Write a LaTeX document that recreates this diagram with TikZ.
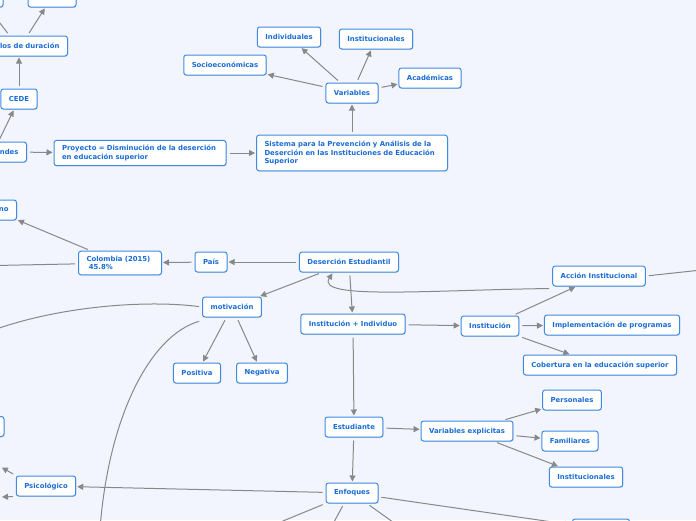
\documentclass[tikz,border=0pt]{standalone}
\usepackage{fontspec}
\setmainfont{DejaVu Sans}
\usetikzlibrary{arrows.meta,shadows}
\definecolor{fondo}{HTML}{F2F5FD}
\definecolor{borde}{HTML}{3F8BE4}
\definecolor{texto}{HTML}{1A6CD6}
\definecolor{gris}{HTML}{888888}

\begin{document}
\begin{tikzpicture}[x=1pt,y=-1pt,
  font=\fontsize{6.9}{8.3}\selectfont\bfseries,
  >={Triangle[length=6pt,width=6pt]},
  caja/.style={draw=borde,line width=1pt,fill=white,rounded corners=2.5pt,
    text=texto,inner xsep=8pt,inner ysep=0pt,minimum height=20pt,
    drop shadow={opacity=0.25,shadow xshift=0.6pt,shadow yshift=-0.8pt}},
  flecha/.style={draw=gris,line width=1pt,->,shorten <=3pt,shorten >=1pt},
  traza/.style={draw=gris,line width=1pt,shorten <=3pt}]
  % 画布
  \useasboundingbox (0,0) rectangle (696,520);
  \fill[fondo] (0,0) rectangle (696,520);
  \clip (0,0) rectangle (696,520);
  % 左上
  \node[caja,minimum width=48pt] (sup1) at (52,-3) {};
  \node[caja,minimum width=46pt] (sup2) at (-20,-3) {};
  \node[caja,anchor=east,text width=80pt,align=right] (durac) at (68,46) {los de duración};
  \node[caja] (cede) at (19,99) {CEDE};
  \node[caja,anchor=east,text width=40pt,align=right] (ndes) at (27,152) {ndes};
  \node[caja,text width=156pt,align=left,inner ysep=5pt] (proy) at (140,153)
    {Proyecto = Disminución de la deserción\\ en educación superior};
  \node[caja,text width=175pt,align=left,inner ysep=6pt] (sist) at (352,153)
    {Sistema para la Prevención y Análisis de la\\ Deserción en las Instituciones de Educación\\ Superior};
  % 变量
  \node[caja] (vars) at (352,93) {Variables};
  \node[caja] (indiv) at (289,37) {Individuales};
  \node[caja] (instA) at (376,39) {Institucionales};
  \node[caja] (socio) at (225,65) {Socioeconómicas};
  \node[caja] (acad) at (430,78) {Académicas};
  % 中部
  \node[caja,anchor=east,text width=30pt,align=right] (nobox) at (17,210) {no};
  \node[caja,text width=67pt,align=left,inner ysep=5pt] (colom) at (120,263)
    {Colombia (2015)\\ \ 45.8\%};
  \node[caja] (pais) at (211,262) {País};
  \node[caja] (deser) at (349,262) {Deserción Estudiantil};
  \node[caja] (motiv) at (232,307) {motivación};
  \node[caja] (posit) at (197,373) {Positiva};
  \node[caja] (negat) at (262,373) {Negativa};
  \node[caja] (instind) at (353,324) {Institución + Individuo};
  \node[caja] (instit) at (490,326) {Institución};
  \node[caja] (accion) at (599,276) {Acción Institucional};
  \node[caja] (implem) at (612,325) {Implementación de programas};
  \node[caja] (cobert) at (600,365) {Cobertura en la educación superior};
  % 下部
  \node[caja] (estud) at (354,427) {Estudiante};
  \node[caja] (varexp) at (467,431) {Variables explícitas};
  \node[caja] (person) at (572,400) {Personales};
  \node[caja] (famil) at (570,441) {Familiares};
  \node[caja] (instB) at (586,477) {Institucionales};
  \node[caja] (enfoq) at (352,493) {Enfoques};
  \node[caja] (psico) at (46,486) {Psicológico};
  \node[caja,minimum width=48pt] (izq) at (-20,426.5) {};
  \node[caja,minimum width=57pt] (inf) at (601,529) {};
  % 画外端点
  \coordinate (fueraA) at (-12,332);
  \coordinate (fueraB) at (99,545);
  \coordinate (fueraC) at (-30,266);
  \coordinate (fueraD) at (720,268);
  \coordinate (fueraE) at (1,467);
  \coordinate (fueraF) at (1,497);
  \coordinate (fueraG) at (249,535);
  \coordinate (fueraH) at (327,535);
  \coordinate (fueraI) at (411,535);
  % 连线
  \draw[flecha] ([xshift=8pt]durac.north) -- (sup1);
  \draw[flecha] ([xshift=-10pt]durac.north) -- (sup2);
  \draw[flecha] (cede) -- (durac.south -| cede);
  \draw[flecha] (ndes.north) -- (cede);
  \draw[flecha] (ndes) -- (proy);
  \draw[flecha] (proy) -- (sist);
  \draw[flecha] (sist) -- (vars);
  \foreach \n in {indiv,instA,socio,acad}
    \draw[flecha] (vars) -- (\n);
  \draw[flecha] (colom) -- (nobox);
  \draw[traza] (colom) -- (fueraC);
  \draw[flecha] (pais) -- (colom);
  \draw[flecha] (deser) -- (pais);
  \draw[flecha] (deser) -- (motiv);
  \draw[traza] (motiv.west) .. controls (150,300) and (60,305) .. (fueraA);
  \draw[traza] ([yshift=-3pt]motiv.south west) .. controls (150,335) and (105,420) .. (fueraB);
  \draw[flecha] (motiv) -- (posit);
  \draw[flecha] (motiv) -- (negat);
  \draw[flecha] (deser) -- (instind);
  \draw[flecha] (instind) -- (instit);
  \foreach \n in {accion,implem,cobert}
    \draw[flecha] (instit) -- (\n);
  \draw[flecha] ([yshift=-2pt]accion.south west) .. controls (430,290) and (315,300) .. ([xshift=-16pt]deser.south);
  \draw[traza] (accion.east) -- (fueraD);
  \draw[flecha] (instind) -- (estud);
  \draw[flecha] (estud) -- (varexp);
  \foreach \n in {person,famil,instB}
    \draw[flecha] (varexp) -- (\n);
  \draw[flecha] (estud) -- (enfoq);
  \draw[flecha] (enfoq) -- (psico);
  \draw[flecha] (enfoq) -- (inf);
  \draw[flecha] (enfoq.south west) -- (fueraG);
  \draw[flecha] ([xshift=-8pt]enfoq.south) -- (fueraH);
  \draw[flecha] ([xshift=15pt]enfoq.south) -- (fueraI);
  \draw[flecha] (psico.north west) -- (fueraE);
  \draw[flecha] (psico.south west) -- (fueraF);
\end{tikzpicture}
\end{document}
